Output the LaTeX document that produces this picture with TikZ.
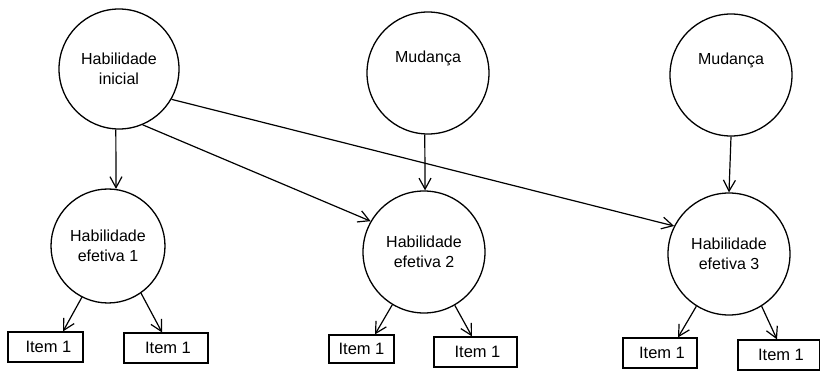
\documentclass[tikz,border=0pt]{standalone}
\usepackage{fontspec}
\setmainfont{Liberation Sans}
\usetikzlibrary{arrows.meta,calc}
\begin{document}
\begin{tikzpicture}[x=1pt,y=-1pt,
  lat/.style={draw,circle,line width=1.3pt,inner sep=0pt,align=center,font=\fontsize{16}{20}\selectfont},
  itembox/.style={draw,rectangle,line width=1.2pt,inner sep=0pt,minimum height=30pt,font=\fontsize{16.5}{18}\selectfont},
  conn/.style={line width=1.2pt,-{Straight Barb[length=11pt,width=12pt,line width=1.2pt]}}]
\useasboundingbox (0,0) rectangle (820,374);
% latent circles
\node[lat,minimum size=120pt] (ini) at (119,69) {Habilidade\\inicial};
\node[lat,minimum size=122pt] (mud1) at (428,73) {Mudança\\[12pt]};
\node[lat,minimum size=122pt] (mud2) at (731,75) {Mudança\\[12pt]};
\node[lat,minimum size=114pt] (ef1) at (108,246) {Habilidade\\efetiva 1};
\node[lat,minimum size=122pt] (ef2) at (424,252) {Habilidade\\efetiva 2};
\node[lat,minimum size=122pt] (ef3) at (729,254) {Habilidade\\efetiva 3};
% items
\node[itembox,minimum width=75pt] (i11) at (45.5,347) {\hspace*{6pt}Item 1};
\node[itembox,minimum width=84pt] (i12) at (166,348) {\hspace*{4pt}Item 1};
\node[itembox,minimum width=65pt,minimum height=28pt] (i21) at (361.5,349) {Item 1};
\node[itembox,minimum width=83pt] (i22) at (475.5,352) {\hspace*{4pt}Item 1};
\node[itembox,minimum width=74pt] (i31) at (660,353) {\hspace*{4pt}Item 1};
\node[itembox,minimum width=82pt] (i32) at (779,355) {\hspace*{4pt}Item 1};
% structural arrows
\draw[conn] (ini.-93) -- (ef1.82);
\draw[conn] (ini.-67.7) -- (ef2.150);
\draw[conn] (ini.-30) -- (ef3.153);
\draw[conn] (mud1.-93) -- (ef2.89);
\draw[conn] (mud2.-90) -- (ef3.90);
% measurement arrows
\draw[conn] (ef1.-117) -- ($(i11.north)+(17.5,0)$);
\draw[conn] (ef1.-55) -- ($(i12.north)+(-4,0)$);
\draw[conn] (ef2.-121) -- ($(i21.north)+(13.5,0)$);
\draw[conn] (ef2.-60) -- ($(i22.north)+(-3.5,0)$);
\draw[conn] (ef3.-122) -- ($(i31.north)+(18,0)$);
\draw[conn] (ef3.-58.5) -- ($(i32.north)+(-2,0)$);
\end{tikzpicture}
\end{document}
